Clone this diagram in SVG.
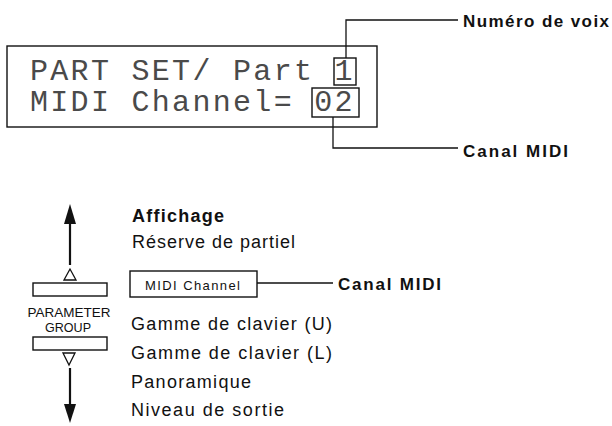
<svg xmlns="http://www.w3.org/2000/svg" width="612" height="426" viewBox="0 0 612 426">
<style>
.lcd{font-family:"Liberation Mono","DejaVu Sans Mono",monospace;font-size:30px;letter-spacing:2.3px;fill:#4a4a4a}
.lbl{font-family:"Liberation Sans",Arial,sans-serif;font-weight:bold;font-size:17px;fill:#111}
.item{font-family:"Liberation Sans",Arial,sans-serif;font-size:18px;fill:#111}
.small{font-family:"Liberation Sans",Arial,sans-serif;font-size:13px;fill:#111}
.box{fill:none;stroke:#111;stroke-width:1.4}
.ln{fill:none;stroke:#111;stroke-width:1.3}
.arr{fill:none;stroke:#111;stroke-width:2.2}
</style>
<g id="lcd">
<rect class="box" x="7" y="46" width="370" height="81" stroke-width="1.6"/>
<text class="lcd" x="30" y="80">PART SET/ Part 1</text>
<text class="lcd" x="30" y="111">MIDI Channel= 02</text>
<rect class="box" x="334" y="58" width="22" height="27"/>
<rect class="box" x="312" y="88" width="47" height="29"/>
</g>
<g id="connectors">
<polyline class="ln" points="346,58 346,20 458,20"/>
<polyline class="ln" points="333,117 333,148 458,148"/>
<line class="ln" x1="257" y1="283" x2="333" y2="283"/>
<line class="arr" x1="70" y1="265" x2="70" y2="221"/>
<path d="M64,224 L70,204 L76,224 z" fill="#111"/>
<line class="arr" x1="70" y1="368" x2="70" y2="406"/>
<path d="M64,404 L70,423 L76,404 z" fill="#111"/>
</g>
<g id="label-numero">
<text class="lbl" x="463" y="27" textLength="146" lengthAdjust="spacing">Numéro de voix</text>
</g>
<g id="label-canal-top">
<text class="lbl" x="463" y="157" textLength="105" lengthAdjust="spacing">Canal MIDI</text>
</g>
<g id="param-group">
<path class="ln" d="M64,280 L70,269 L76,280 z" stroke-width="1.5"/>
<rect class="box" x="33" y="283" width="74" height="13"/>
<text class="small" x="69" y="317" text-anchor="middle" font-size="14" textLength="83" lengthAdjust="spacingAndGlyphs">PARAMETER</text>
<text class="small" x="68" y="332" text-anchor="middle" font-size="14" textLength="46" lengthAdjust="spacingAndGlyphs">GROUP</text>
<rect class="box" x="33" y="337" width="74" height="13"/>
<path class="ln" d="M63,353 L69,365 L75,353 z" stroke-width="1.5"/>
</g>
<g id="list">
<text class="item" x="132" y="222" font-weight="bold" textLength="92" lengthAdjust="spacing">Affichage</text>
<text class="item" x="132" y="248" textLength="163" lengthAdjust="spacing">Réserve de partiel</text>
<g id="midi-channel">
<rect class="box" x="130" y="271" width="127" height="26"/>
<text class="small" x="145" y="290" textLength="95" lengthAdjust="spacing">MIDI  Channel</text>
</g>
<text class="lbl" x="338" y="290" textLength="103" lengthAdjust="spacing">Canal MIDI</text>
<text class="item" x="131" y="330" textLength="201" lengthAdjust="spacing">Gamme de clavier (U)</text>
<text class="item" x="131" y="359" textLength="201" lengthAdjust="spacing">Gamme de clavier (L)</text>
<text class="item" x="131" y="388" textLength="120" lengthAdjust="spacing">Panoramique</text>
<text class="item" x="131" y="416" textLength="153" lengthAdjust="spacing">Niveau de sortie</text>
</g>
</svg>
